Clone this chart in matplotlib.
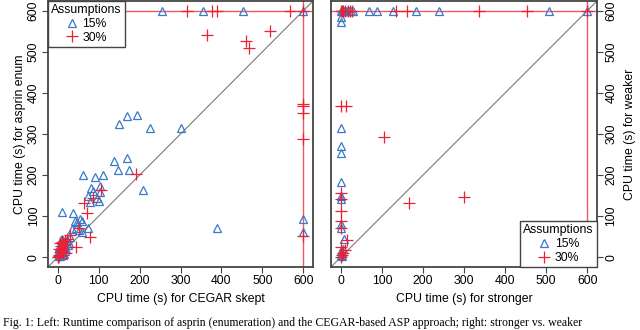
import matplotlib
matplotlib.use("Agg")
import matplotlib.pyplot as plt
from matplotlib.lines import Line2D

plt.rcParams['font.family'] = ['Liberation Sans', 'DejaVu Sans']

ticks = [0, 100, 200, 300, 400, 500, 600]
tick_labels = ["0", "100", "200", "300", "400", "500", "600"]
timeout = 600
legend_title = "Assumptions"
series_names = ["15%", "30%"]

# Left panel: CEGAR skept (x) vs asprin enum (y)
left_15_x = [255, 355, 454, 600, 150, 170, 194, 225, 302, 137, 170, 147, 173, 61, 91, 110,
             82, 103, 75, 85, 95, 78, 100, 104, 209, 10, 37, 42, 48, 55, 60, 45, 52, 35, 58,
             74, 389, 600, 600,
             2, 4, 5, 6, 8, 10, 12, 3, 7, 9, 11, 13, 10, 15, 6, 8, 14, 16, 18, 20, 4, 2, 25,
             22, 30, 28, 12, 15, 5, 9, 11, 3]
left_15_y = [600, 600, 600, 600, 325, 343, 347, 315, 315, 234, 242, 212, 212, 199, 196, 201,
             169, 173, 150, 160, 145, 135, 138, 158, 163, 110, 107, 88, 85, 92, 88, 72, 65, 68, 62,
             70, 70, 94, 62,
             2, 5, 10, 15, 20, 25, 30, 8, 12, 18, 35, 40, 45, 38, 28, 33, 22, 28, 15, 20, 18, 12, 30,
             42, 48, 35, 5, 8, 3, 42, 14, 25]
left_30_x = [316, 377, 390, 567, 600, 365, 518, 459, 467, 600, 600, 600, 600, 190, 105, 85,
             63, 71, 79, 52, 44, 30, 22, 10, 600,
             0, 2, 5, 3, 8, 6, 10, 12, 15, 18, 20, 4, 1]
left_30_y = [600, 600, 600, 600, 600, 542, 551, 527, 509, 373, 369, 351, 288, 202, 163, 145,
             133, 107, 50, 72, 24, 55, 45, 38, 52,
             0, 5, 12, 20, 28, 35, 15, 22, 30, 40, 10, 3, 0]

# Right panel: stronger (x) vs weaker (y)
right_15_x = [0, 2, 5, 8, 12, 15, 20, 25, 30, 69, 89, 128, 183, 239, 508, 600,
              0, 0, 0, 0, 0, 0, 0, 0, 0, 0, 7, 5, 2, 0, 3, 1]
right_15_y = [600, 600, 600, 600, 600, 600, 600, 600, 600, 600, 600, 600, 600, 600, 600, 600,
              586, 574, 315, 270, 254, 183, 148, 142, 80, 70, 43, 20, 10, 5, 2, 15]
right_30_x = [0, 3, 6, 10, 18, 22, 28, 134, 162, 336, 453, 600,
              0, 12, 105, 0, 0, 0, 0, 0, 16, 166, 299, 10, 5, 0, 2, 0]
right_30_y = [600, 600, 600, 600, 600, 600, 600, 600, 600, 600, 600, 600,
              367, 367, 293, 157, 141, 112, 88, 72, 42, 133, 147, 18, 10, 0, 5, 25]

left_xlabel = "CPU time (s) for CEGAR skept"
left_ylabel = "CPU time (s) for asprin enum"
right_xlabel = "CPU time (s) for stronger"
right_ylabel = "CPU time (s) for weaker"
caption = ("Fig. 1: Left: Runtime comparison of asprin (enumeration) and the CEGAR-based ASP "
           "approach; right: stronger vs. weaker")

BLUE = "#3a78c9"
RED = "#ee2030"
FS = 8.8

fig = plt.figure(figsize=(6.4, 3.3), dpi=100)
axL = fig.add_axes([48/640, 1 - 267/330, (313-48)/640, 266/330])
axR = fig.add_axes([331/640, 1 - 267/330, (597-331)/640, 266/330])


def style(ax, right=False):
    ax.set_xlim(-24, 624)
    ax.set_ylim(-24, 624)
    ax.set_xticks(ticks)
    ax.set_xticklabels(tick_labels, fontsize=FS)
    ax.set_yticks(ticks)
    ax.set_yticklabels(tick_labels, fontsize=FS, rotation=90, va='center')
    for s in ax.spines.values():
        s.set_linewidth(1.3)
        s.set_color("#444444")
    ax.tick_params(length=4, width=0.8, color="#444444", pad=2)
    if right:
        ax.yaxis.tick_right()
        ax.yaxis.set_label_position("right")
    ax.axline((0, 0), slope=1, color="#7a7a7a", lw=0.8, zorder=1)
    ax.axhline(timeout, color=RED, alpha=0.75, lw=1.0, zorder=1)
    ax.axvline(timeout, color=RED, alpha=0.75, lw=1.0, zorder=1)


def draw(ax, x15, y15, x30, y30):
    ax.plot(x15, y15, ls='none', marker='^', ms=6, mfc='none', mec=BLUE, mew=0.9, zorder=3)
    ax.plot(x30, y30, ls='none', marker='+', ms=8, mec=RED, mew=0.9, zorder=3)


style(axL)
draw(axL, left_15_x, left_15_y, left_30_x, left_30_y)
axL.set_xlabel(left_xlabel, fontsize=FS, labelpad=4)
axL.set_ylabel(left_ylabel, fontsize=FS, labelpad=1)

style(axR, right=True)
draw(axR, right_15_x, right_15_y, right_30_x, right_30_y)
axR.set_xlabel(right_xlabel, fontsize=FS, labelpad=4)
axR.set_ylabel(right_ylabel, fontsize=FS, labelpad=5, rotation=90)

handles = [Line2D([], [], ls='none', marker='^', ms=6, mfc='none', mec=BLUE, mew=0.9),
           Line2D([], [], ls='none', marker='+', ms=8, mec=RED, mew=0.9)]
for ax, loc in [(axL, 'upper left'), (axR, 'lower right')]:
    leg = ax.legend(handles, series_names, title=legend_title, loc=loc, fontsize=FS,
                    title_fontsize=FS, fancybox=False, borderaxespad=0, framealpha=1,
                    edgecolor="#444444", handlelength=1.0, handletextpad=0.4,
                    borderpad=0.25, labelspacing=0.15)
    leg.get_frame().set_linewidth(1.0)
    leg.set_zorder(5)

fig.text(0.004, 1/330, caption, fontsize=8.5, family=['Liberation Serif', 'DejaVu Serif'],
         va='bottom', ha='left')

fig.savefig("out.png", dpi=100)
